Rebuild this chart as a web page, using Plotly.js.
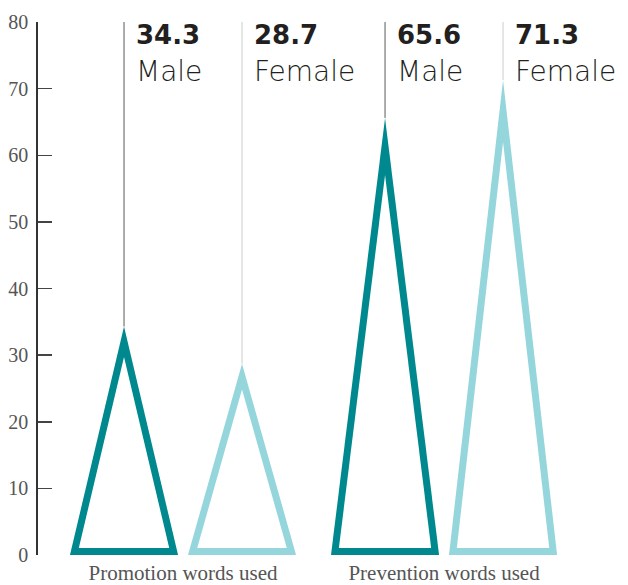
<!DOCTYPE html>
<html>
<head>
<meta charset="utf-8">
<script src="https://cdn.plot.ly/plotly-3.0.1.min.js"></script>
<style>
  html, body { margin: 0; padding: 0; background: #ffffff; }
  #chart { width: 628px; height: 585px; }
</style>
</head>
<body>
<div id="chart"></div>
<script>
// Share of regulatory-focus words, by gender
const categories = ['Promotion words used', 'Prevention words used'];
const genders = ['Male', 'Female'];
const maleValues = [34.3, 65.6];
const femaleValues = [28.7, 71.3];
const yTickValues = [0, 10, 20, 30, 40, 50, 60, 70, 80];

// Styling
const W = 628, H = 585;
const margin = { l: 38, r: 0, t: 22, b: 30 };
const genderColors = ['#00888f', '#95d6dc'];
const guideColors = ['#5a5a5a', '#cccccc'];
const groupGap = 2.212;        // distance between group centres (x units)
const halfBase = 0.458;        // half width of triangle base (x units)
const stroke = 7;              // outline thickness in px
const xRange = [-1.229, 3.771];
const yRange = [0, 80];

const plotW = W - margin.l - margin.r;
const plotH = H - margin.t - margin.b;
const pxPerX = plotW / (xRange[1] - xRange[0]);
const pxPerY = plotH / (yRange[1] - yRange[0]);

const seriesValues = [maleValues, femaleValues];
const traces = [];
const annotations = [];

categories.forEach((cat, gi) => {
  genders.forEach((g, si) => {
    const v = seriesValues[si][gi];
    const c = gi * groupGap + (si === 0 ? -0.5 : 0.5);

    // outer triangle
    traces.push({
      x: [c - halfBase, c, c + halfBase, c - halfBase],
      y: [0, v, 0, 0],
      mode: 'lines', fill: 'toself',
      fillcolor: genderColors[si],
      line: { width: 0, color: genderColors[si] },
      hoverinfo: 'skip', showlegend: false
    });

    // inner white triangle: shrink about the incentre (in pixel space)
    const bPx = halfBase * pxPerX;
    const hPx = v * pxPerY;
    const r = (bPx * hPx) / (bPx + Math.sqrt(bPx * bPx + hPx * hPx));
    const k = (r - stroke) / r;
    const cy = r / pxPerY;
    const sx = x => c + k * (x - c);
    const sy = y => cy + k * (y - cy);
    traces.push({
      x: [sx(c - halfBase), sx(c), sx(c + halfBase), sx(c - halfBase)],
      y: [sy(0), sy(v), sy(0), sy(0)],
      mode: 'lines', fill: 'toself',
      fillcolor: '#ffffff',
      line: { width: 0, color: '#ffffff' },
      hoverinfo: 'skip', showlegend: false
    });

    // guide line from the apex to the top
    traces.push({
      x: [c, c],
      y: [v, yRange[1]],
      mode: 'lines',
      line: { width: 1, color: guideColors[si] },
      hoverinfo: 'skip', showlegend: false
    });

    annotations.push({
      x: c, y: 78.0, xref: 'x', yref: 'y',
      xanchor: 'left', yanchor: 'middle', xshift: 10,
      text: v.toFixed(1), showarrow: false,
      font: { family: 'DejaVu Sans', size: 26, weight: 700, color: '#231f20' }
    });
    annotations.push({
      x: c, y: 72.6, xref: 'x', yref: 'y',
      xanchor: 'left', yanchor: 'middle', xshift: 10,
      text: g, showarrow: false,
      font: { family: 'DejaVu Sans', size: 28, weight: 200, color: '#231f20' }
    });
  });
});

const layout = {
  width: W, height: H,
  margin: margin,
  paper_bgcolor: '#ffffff', plot_bgcolor: '#ffffff',
  showlegend: false,
  xaxis: {
    range: xRange, fixedrange: true,
    showgrid: false, zeroline: false, showline: false,
    tickvals: categories.map((_, gi) => gi * groupGap),
    ticktext: categories,
    ticks: '',
    ticklabelstandoff: 3,
    tickfont: { family: 'Liberation Serif', size: 21, color: '#555555' }
  },
  yaxis: {
    range: yRange, fixedrange: true,
    showgrid: false, zeroline: false,
    showline: true, linecolor: '#333333', linewidth: 1.8,
    tickvals: yTickValues,
    ticks: 'inside', ticklen: 14, tickwidth: 1.5, tickcolor: '#444444',
    ticklabelstandoff: 4,
    tickfont: { family: 'Liberation Serif', size: 20, color: '#555555' }
  },
  annotations: annotations
};

Plotly.newPlot('chart', traces, layout, { staticPlot: true, displayModeBar: false });
</script>
</body>
</html>
